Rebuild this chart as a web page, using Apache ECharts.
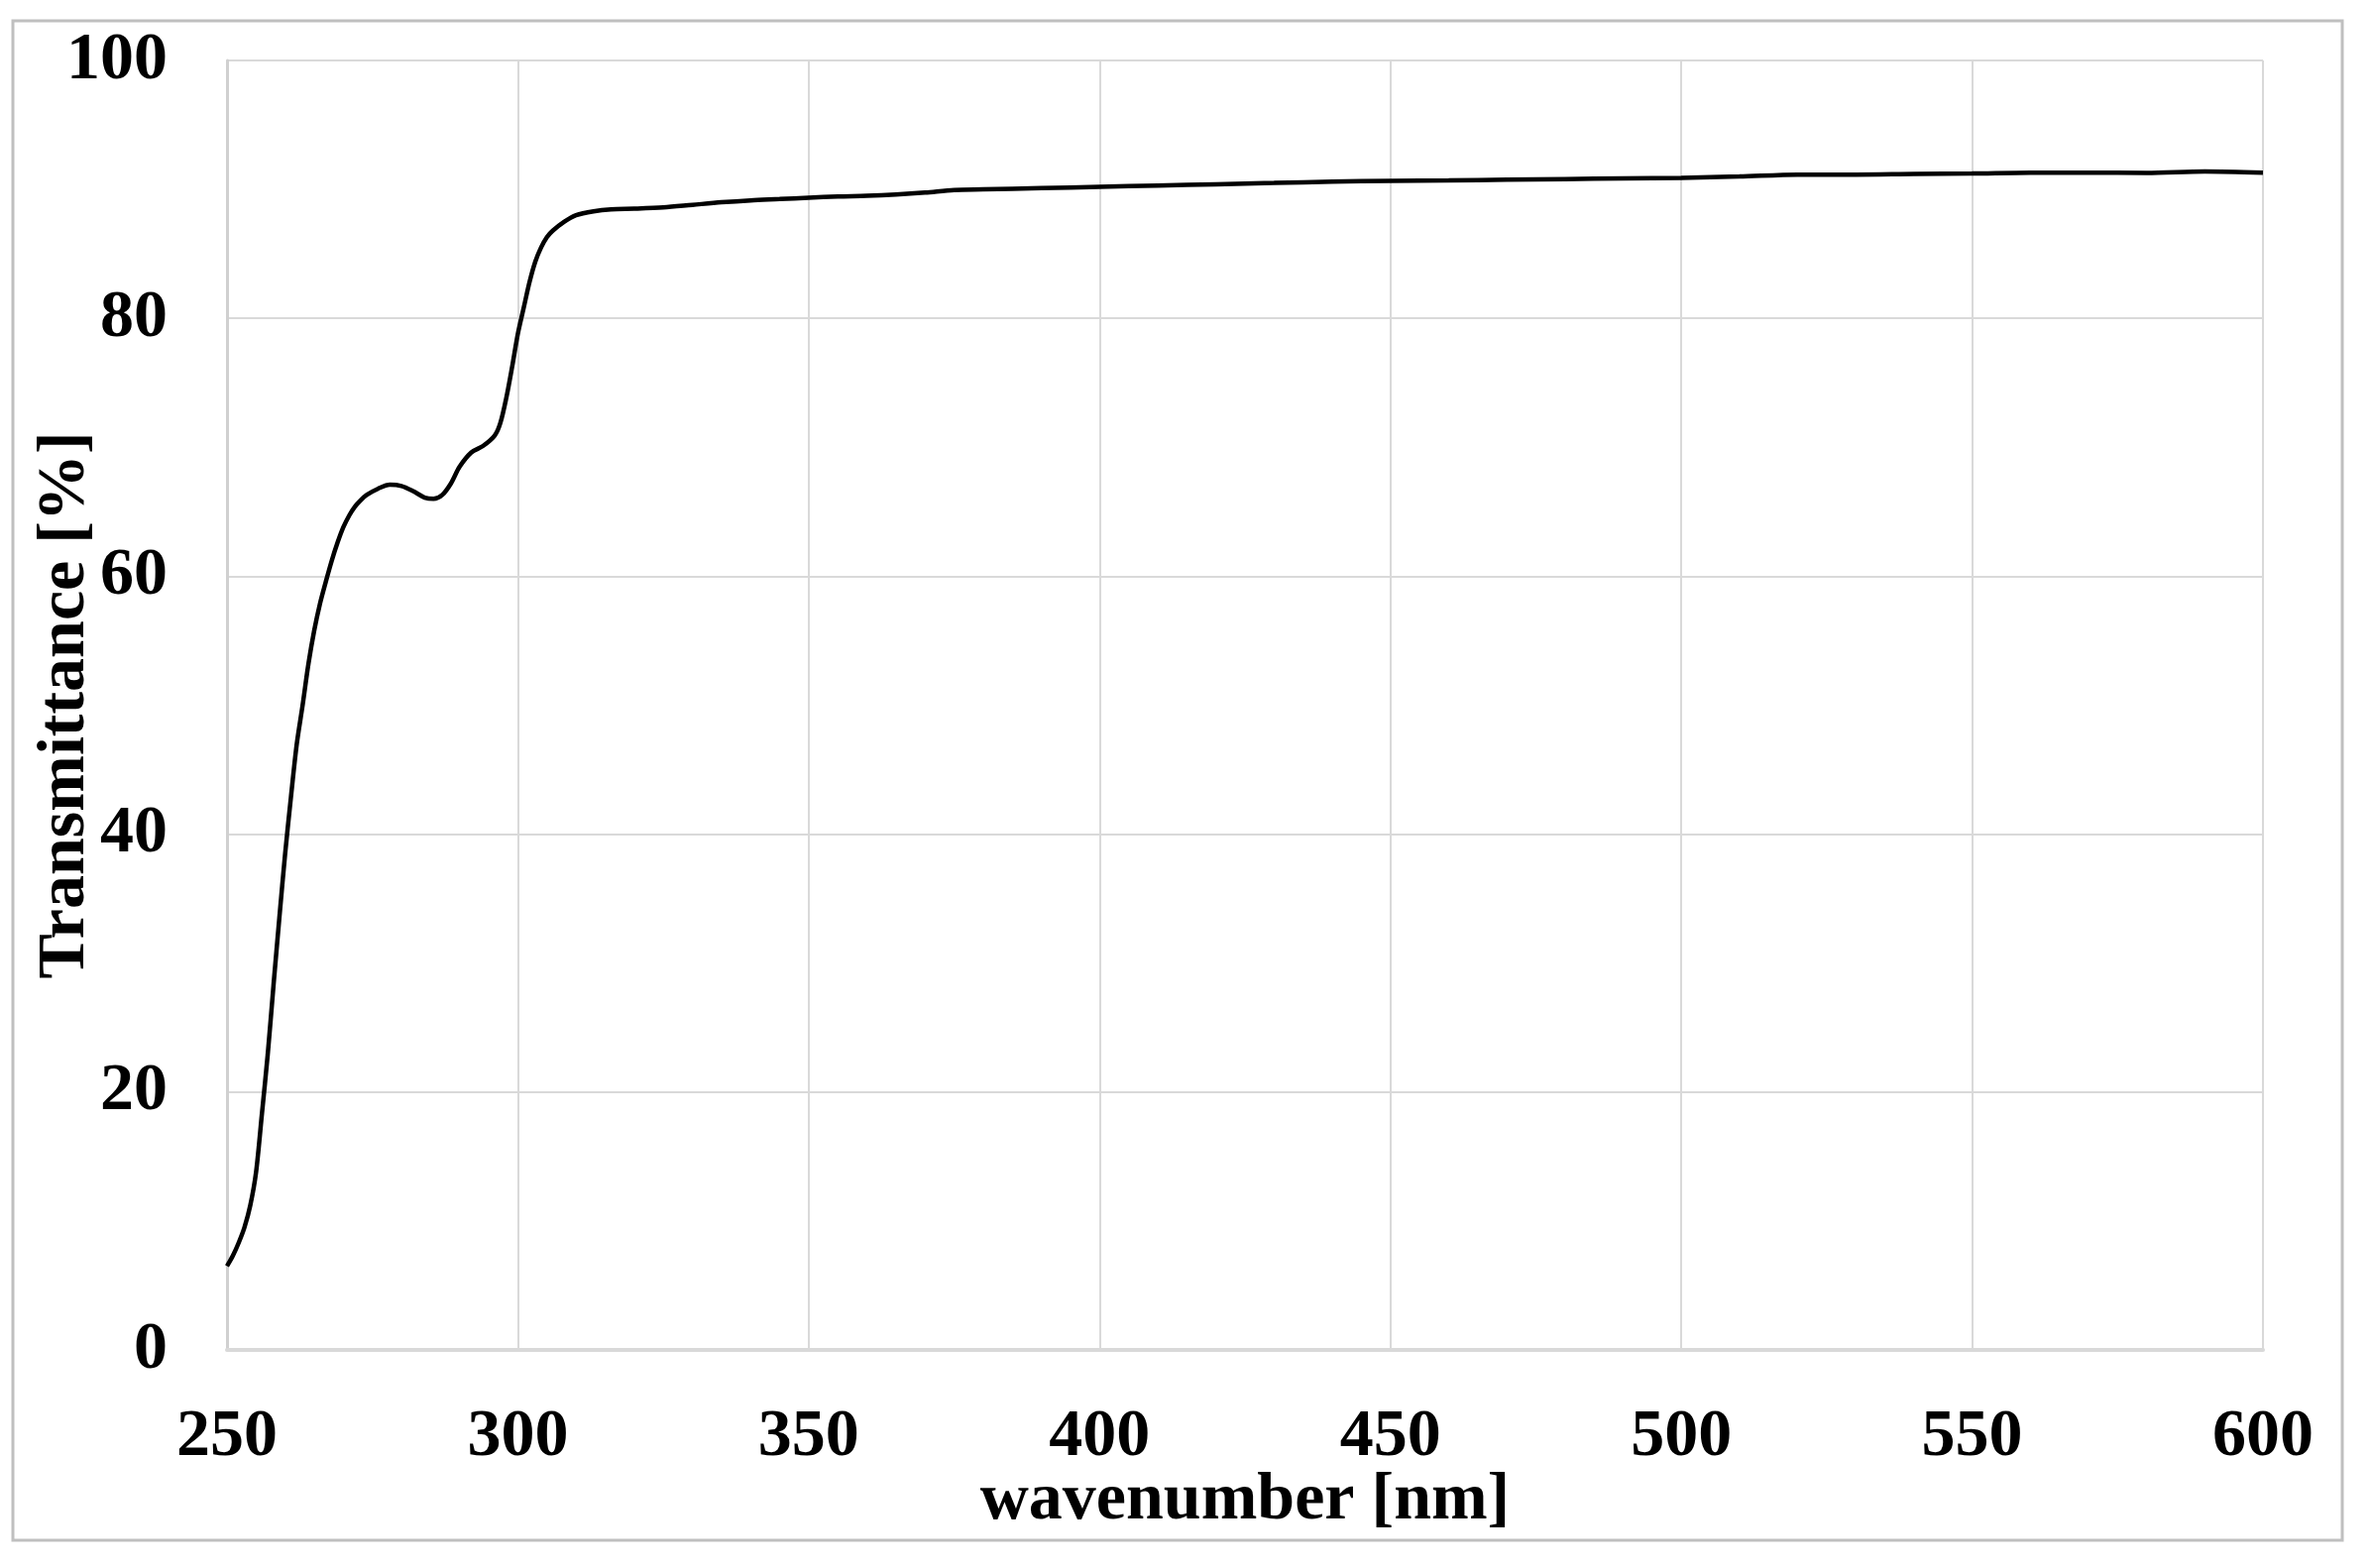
<!DOCTYPE html>
<html lang="en">
<head>
	<meta charset="UTF-8">
	<title>Transmittance</title>
	<script src="https://cdn.jsdelivr.net/npm/echarts@6.0.0/dist/echarts.min.js"></script>
	<style>
		html,body{margin:0;padding:0;background:#fff;}
	</style>
</head>
<body>
	<div id="chart" style="width:2393px; height:1582px;"></div>
<script>
	// wavelength [nm]
	var wavelength = [250,251,252,253,254,255,256,257,258,259,260,261,262,263,264,265,266,267,268,269,270,
		271,272,273,274,276,278,280,282,284,285.5,287,288.5,290,292,294,296,297,298,299,300,301,302,303,304,305,306,308,310,
		313,316,320,325,330,335,340,345,350,355,360,365,370,375,380,390,400,410,420,430,440,450,
		460,470,480,490,500,510,520,530,540,550,560,570,580,590,600];
	// transmittance [%]
	var transmittance = [6.5,7.3,8.3,9.5,11.2,13.8,18.3,22.9,28.3,33.5,38.5,42.9,47.0,50.0,53.2,55.8,57.9,59.6,61.2,62.6,63.8,
		64.7,65.4,65.9,66.3,66.8,67.1,67.0,66.6,66.1,66.0,66.3,67.2,68.5,69.6,70.1,70.9,71.9,73.8,76.2,78.8,80.8,82.8,84.4,85.5,86.3,86.8,87.5,88.0,
		88.3,88.45,88.5,88.6,88.8,89.0,89.15,89.25,89.36,89.45,89.5,89.6,89.75,89.95,90.0,90.1,90.2,90.3,90.4,90.5,90.6,90.67,
		90.7,90.75,90.8,90.85,90.9,91.0,91.15,91.15,91.2,91.23,91.3,91.3,91.28,91.4,91.3];

	var xTicks = {min:250, max:600, step:50};
	var yTicks = {min:0, max:100, step:20};

	var font = 'Liberation Serif';
	var txt = {fontFamily:font, fontWeight:'bold', fontSize:68, color:'#000'};

	var points = wavelength.map(function(w, i){ return [w, transmittance[i]]; });

	var option = {
		animation: false,
		backgroundColor: '#fff',
		graphic: [{
			type: 'rect',
			silent: true,
			z: -1,
			shape: {x:13, y:21, width:2350, height:1533},
			style: {fill:'none', stroke:'#bfbfbf', lineWidth:3}
		}],
		grid: {left:229, right:110, top:61, bottom:220, outerBoundsMode:'none', containLabel:false},
		xAxis: {
			type: 'value',
			min: xTicks.min, max: xTicks.max, interval: xTicks.step,
			name: 'wavenumber [nm]',
			nameLocation: 'middle',
			nameGap: 118,
			nameMoveOverlap: false,
			nameTextStyle: txt,
			axisLine: {show:true, lineStyle:{color:'#d9d9d9', width:4}},
			axisTick: {show:false},
			axisLabel: Object.assign({margin:54}, txt),
			splitLine: {show:true, lineStyle:{color:'#d9d9d9', width:2}}
		},
		yAxis: {
			type: 'value',
			min: yTicks.min, max: yTicks.max, interval: yTicks.step,
			name: 'Transmittance [%]',
			nameLocation: 'middle',
			nameGap: 129,
			nameMoveOverlap: false,
			nameTextStyle: txt,
			axisLine: {show:true, lineStyle:{color:'#d0d0d0', width:3}},
			axisTick: {show:false},
			axisLabel: Object.assign({margin:60}, txt),
			splitLine: {show:true, lineStyle:{color:'#d9d9d9', width:2}}
		},
		series: [{
			type: 'line',
			data: points,
			showSymbol: false,
			smooth: 0.3,
			lineStyle: {color:'#000', width:4.5}
		}]
	};

	var myChart = echarts.init(document.getElementById('chart'));
	myChart.setOption(option);
</script>
</body>
</html>
